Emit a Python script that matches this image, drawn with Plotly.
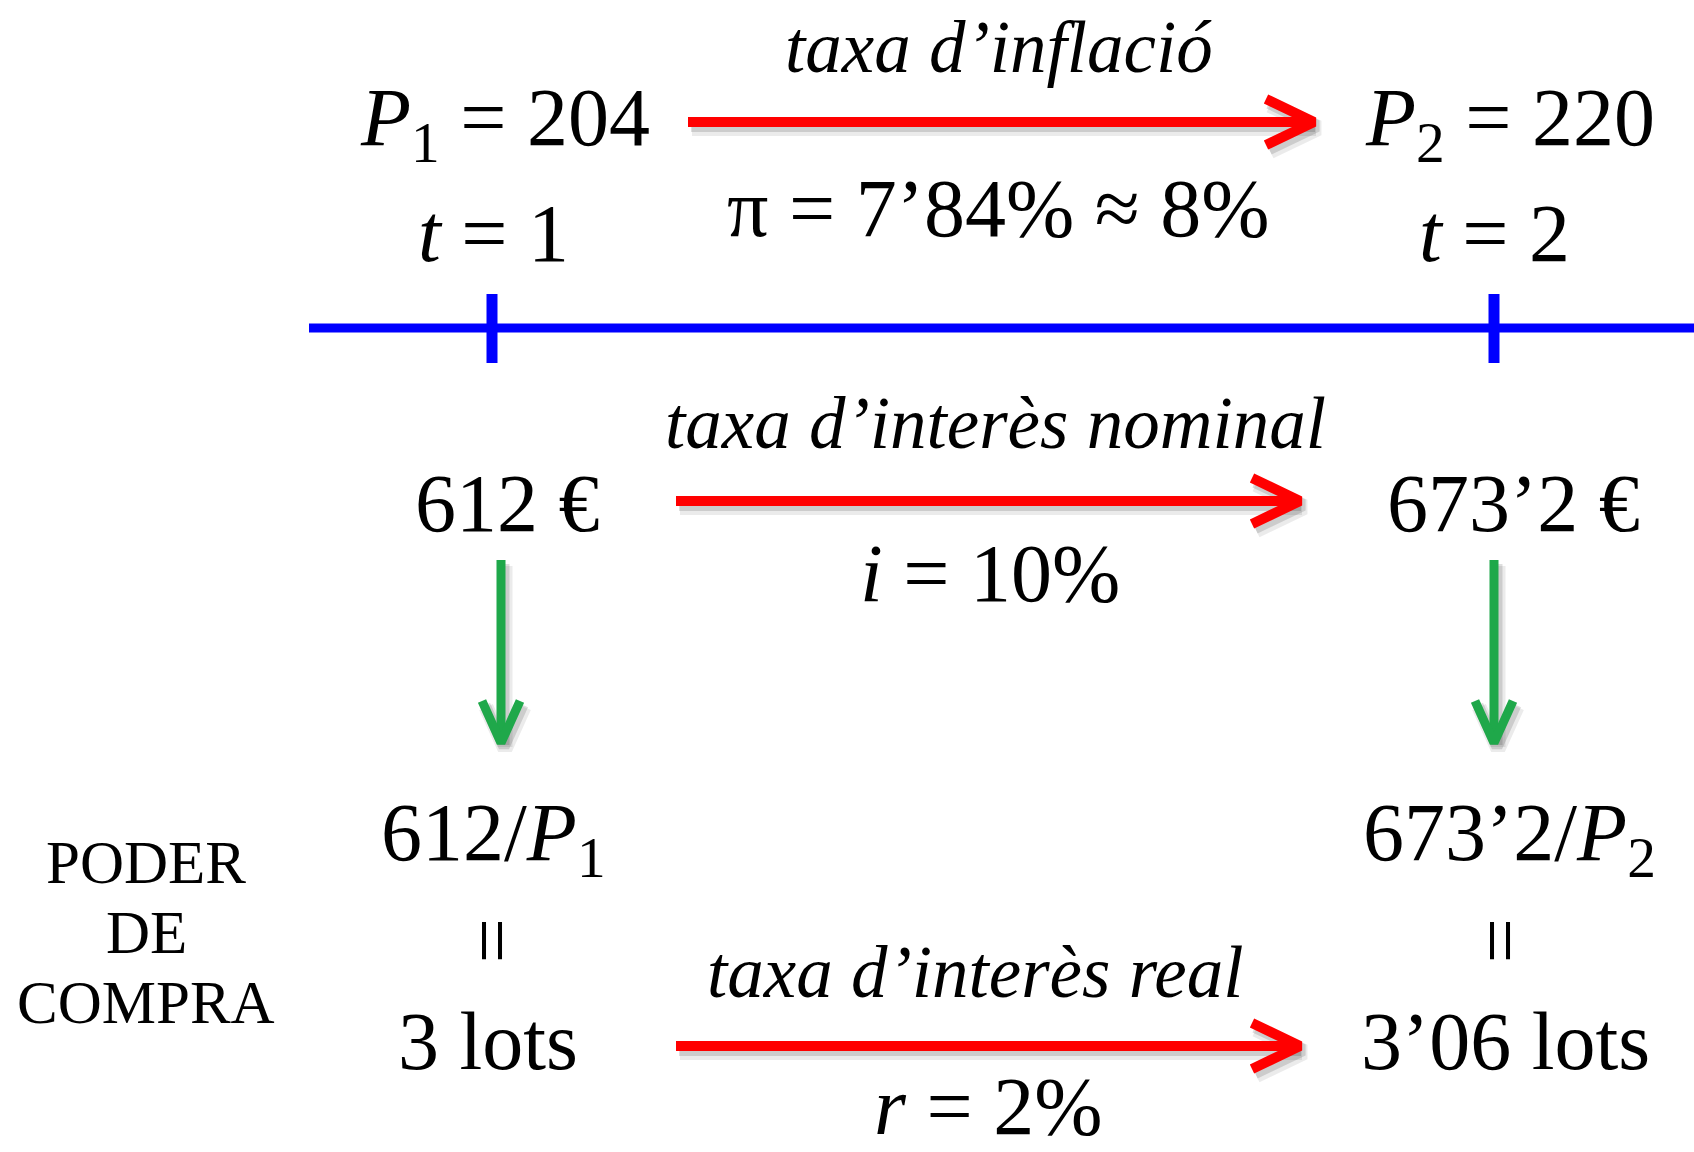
import math
import plotly.graph_objects as go

# ---------------- data ----------------
periods = [1, 2]
prices = [204, 220]                 # P1, P2
nominal_money = [612, 673.2]        # euros at t=1, t=2
lots = [3, 3.06]                    # purchasing power (lots)
inflation_rate = "7’84%"
inflation_rounded = "8%"
nominal_rate = "10%"
real_rate = "2%"
rate_titles = ["taxa d’inflació", "taxa d’interès nominal", "taxa d’interès real"]
side_label = ["PODER", "DE", "COMPRA"]


def cat(v):
    s = ("%g" % v)
    return s.replace(".", "’")


# ---------------- layout constants (pixel space) ----------------
W, H = 1694, 1152
col_x = [492, 1494]          # time ticks
FONT = "Liberation Serif"
BIG = 82
MID = 73
RED = "#ff0000"
GREEN = "#1fa84a"
BLUE = "#0000ff"

fig = go.Figure()


def add_arrow(x0, y0, x1, y1, color, width, head_len, head_half):
    dx, dy = x1 - x0, y1 - y0
    L = math.hypot(dx, dy)
    ux, uy = dx / L, dy / L
    px, py = -uy, ux
    hx1 = x1 - ux * head_len + px * head_half
    hy1 = y1 - uy * head_len + py * head_half
    hx2 = x1 - ux * head_len - px * head_half
    hy2 = y1 - uy * head_len - py * head_half
    tipx, tipy = x1 - ux * 2, y1 - uy * 2
    for off, col, w in [((4, 6), "rgba(0,0,0,0.08)", width + 6), ((3, 4), "rgba(0,0,0,0.13)", width + 2)]:
        fig.add_trace(go.Scatter(x=[x0 + off[0], tipx + off[0]], y=[y0 + off[1], tipy + off[1]],
                                 mode="lines", line=dict(color=col, width=w), hoverinfo="skip"))
        fig.add_trace(go.Scatter(x=[hx1 + off[0], x1 + off[0], hx2 + off[0]],
                                 y=[hy1 + off[1], y1 + off[1], hy2 + off[1]],
                                 mode="lines", line=dict(color=col, width=w), hoverinfo="skip"))
    fig.add_trace(go.Scatter(x=[x0, tipx], y=[y0, tipy], mode="lines",
                             line=dict(color=color, width=width), hoverinfo="skip"))
    fig.add_trace(go.Scatter(x=[hx1, x1, hx2], y=[hy1, y1, hy2], mode="lines",
                             line=dict(color=color, width=width), hoverinfo="skip"))


# time axis (blue)
fig.add_shape(type="line", x0=309, x1=W, y0=328, y1=328, line=dict(color=BLUE, width=9))
for cx in col_x:
    fig.add_shape(type="line", x0=cx, x1=cx, y0=294, y1=363, line=dict(color=BLUE, width=11))

# red arrows
add_arrow(688, 122, 1314, 122, RED, 10, 48, 23)
add_arrow(676, 501, 1300, 501, RED, 10, 48, 23)
add_arrow(676, 1046, 1300, 1046, RED, 10, 48, 23)
# green arrows
add_arrow(col_x[0] + 9, 560, col_x[0] + 9, 743, GREEN, 9, 42, 19)
add_arrow(col_x[1] + 0, 560, col_x[1] + 0, 743, GREEN, 9, 42, 19)


def txt(x, y, s, size=BIG, angle=0):
    fig.add_annotation(x=x, y=y, text=s, showarrow=False, xanchor="center", yanchor="middle",
                       textangle=angle, font=dict(family=FONT, size=size, color="black"))


# top row
txt(999, 47, "<i>%s</i>" % rate_titles[0], MID)
txt(505, 123, "<i>P</i><sub>1</sub> = %s" % cat(prices[0]))
txt(1510, 123, "<i>P</i><sub>2</sub> = %s" % cat(prices[1]))
txt(998, 208, "π = %s ≈ %s" % (inflation_rate, inflation_rounded))
txt(493, 233, "<i>t</i> = %d" % periods[0])
txt(1494, 233, "<i>t</i> = %d" % periods[1])

# nominal row
txt(995, 423, "<i>%s</i>" % rate_titles[1], MID)
txt(507, 503, "%s €" % cat(nominal_money[0]))
txt(1513, 503, "%s €" % cat(nominal_money[1]))
txt(990, 573, "<i>i</i> = %s" % nominal_rate)

# purchasing power row
txt(493, 838, "%s/<i>P</i><sub>1</sub>" % cat(nominal_money[0]))
txt(1509, 838, "%s/<i>P</i><sub>2</sub>" % cat(nominal_money[1]))
for s, yy in zip(side_label, [862, 932, 1002]):
    txt(146, yy, s, 61)
txt(492, 940, "=", 80, 90)
txt(1500, 940, "=", 80, 90)
txt(975, 972, "<i>%s</i>" % rate_titles[2], MID)
txt(488, 1041, "%s lots" % cat(lots[0]))
txt(1505, 1041, "%s lots" % cat(lots[1]))
txt(988, 1106, "<i>r</i> = %s" % real_rate)

fig.update_layout(
    width=W, height=H, margin=dict(l=0, r=0, t=0, b=0),
    paper_bgcolor="white", plot_bgcolor="white", showlegend=False,
    xaxis=dict(range=[0, W], visible=False, fixedrange=True),
    yaxis=dict(range=[H, 0], visible=False, fixedrange=True),
)

fig.write_html("out.html", config={"displayModeBar": False},
               post_script="document.body.style.margin='0';document.body.style.overflow='hidden';")
